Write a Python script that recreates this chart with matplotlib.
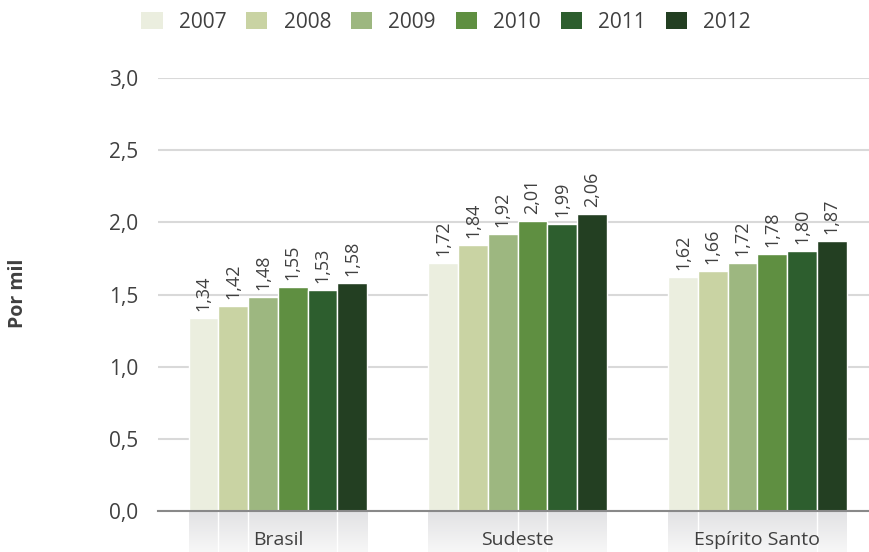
import numpy as np
import matplotlib
matplotlib.use("Agg")
import matplotlib.pyplot as plt
from matplotlib.patches import Patch
from matplotlib.colors import LinearSegmentedColormap

plt.rcParams['font.family'] = ['Open Sans', 'DejaVu Sans']

categories = ["Brasil", "Sudeste", "Espírito Santo"]
years = ["2007", "2008", "2009", "2010", "2011", "2012"]
values = {
    "2007": [1.34, 1.72, 1.62],
    "2008": [1.42, 1.84, 1.66],
    "2009": [1.48, 1.92, 1.72],
    "2010": [1.55, 2.01, 1.78],
    "2011": [1.53, 1.99, 1.80],
    "2012": [1.58, 2.06, 1.87],
}
colors = ["#ebeedf", "#c9d3a3", "#9db780", "#5f8f41", "#2d5e2e", "#233f22"]
yticks = [0.0, 0.5, 1.0, 1.5, 2.0, 2.5, 3.0]
ylabel = "Por mil"

text_color = "#404040"
fig = plt.figure(figsize=(8.7, 5.52), dpi=100)
ax = fig.add_axes([158 / 870, 41 / 552, 1 - 158 / 870, (511 - 78) / 552])

x = np.arange(len(categories))
n = len(years)
bw = 0.124
offsets = (np.arange(n) - (n - 1) / 2) * bw

for i, yr in enumerate(years):
    ax.bar(x + offsets[i], values[yr], width=bw, color=colors[i],
           edgecolor="white", linewidth=1.0, zorder=3, label=yr)
    for xi, v in zip(x + offsets[i], values[yr]):
        ax.annotate(f"{v:.2f}".replace(".", ","), (xi, v), xytext=(0, 5),
                    textcoords="offset points", rotation=90, ha="center",
                    va="bottom", fontsize=13, color=text_color)

ax.set_xlim(-0.5, 2.47)
ax.set_ylim(0, 3.0)
ax.set_yticks(yticks)
ax.set_yticklabels([f"{t:.1f}".replace(".", ",") for t in yticks],
                   fontsize=15, color=text_color)
ax.tick_params(axis="y", length=0, pad=14)
ax.tick_params(axis="x", length=0, labelbottom=False)
ax.grid(axis="y", color="#d9d9d9", linewidth=1.5, zorder=0)
for s in ["top", "right", "left"]:
    ax.spines[s].set_visible(False)
ax.spines["bottom"].set_color("#898989")
ax.spines["bottom"].set_linewidth(1.5)
ax.spines["bottom"].set_zorder(5)

# shaded category band beneath the axis
grad = np.linspace(0, 1, 100).reshape(-1, 1)
band_cmap = LinearSegmentedColormap.from_list("band", ["#e2e2e4", "#f7f7f7"])
band_h = 41 / 433 * 3.0
gaps = [[1, 2, 5], [3, 4], [1, 5]]
for ci, cat in enumerate(categories):
    left = x[ci] + offsets[0] - bw / 2
    right = x[ci] + offsets[-1] + bw / 2
    ax.imshow(grad, cmap=band_cmap, aspect="auto", extent=[left, right, -band_h, 0],
              clip_on=False, zorder=1)
    for g in gaps[ci]:
        bx = x[ci] + offsets[g] - bw / 2
        ax.plot([bx, bx], [-band_h, 0], color="white", linewidth=1.0,
                clip_on=False, zorder=2)
    ax.text(x[ci], -band_h * 0.71, cat, ha="center", va="center",
            fontsize=14, color=text_color, zorder=4, clip_on=False)
ax.set_ylim(0, 3.0)
ax.set_xlim(-0.5, 2.47)

fig.text(18 / 870, 1 - 293 / 552, ylabel, rotation=90, ha="center", va="center",
         fontsize=14, fontweight="bold", color=text_color)

handles = [Patch(facecolor=c, edgecolor="none") for c in colors]
fig.legend(handles, years, loc="center", bbox_to_anchor=(446 / 870, 1 - 22 / 552),
           ncol=6, frameon=False, fontsize=15, handlelength=1.02, handleheight=0.85,
           handletextpad=0.77, columnspacing=0.96, labelcolor=text_color)

fig.savefig("out.png", dpi=100)
